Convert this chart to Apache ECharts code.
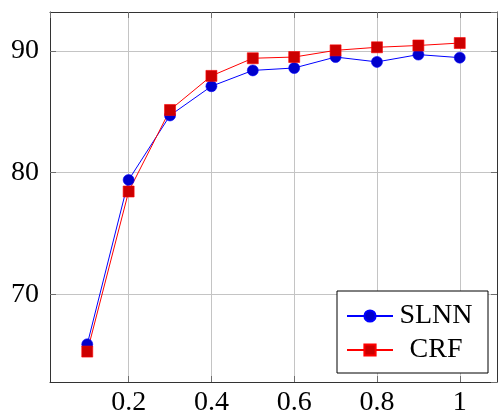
<!DOCTYPE html>
<html>
<head>
<meta charset="utf-8">
<script src="https://cdn.jsdelivr.net/npm/echarts@6/dist/echarts.min.js"></script>
<style>
html, body { margin: 0; padding: 0; background: #fff; }
#main { width: 499px; height: 417px; }
</style>
</head>
<body>
<div id="main"></div>
<script>
// data
var xValues = [0.1, 0.2, 0.3, 0.4, 0.5, 0.6, 0.7, 0.8, 0.9, 1];
var slnnValues = [65.9, 79.4, 84.7, 87.1, 88.4, 88.6, 89.5, 89.1, 89.7, 89.45];
var crfValues = [65.3, 78.45, 85.15, 87.95, 89.4, 89.5, 90.05, 90.3, 90.45, 90.65];
var seriesNames = ['SLNN', 'CRF'];

function pairs(xs, ys) {
    var out = [];
    for (var i = 0; i < xs.length; i++) out.push([xs[i], ys[i]]);
    return out;
}

var serifFont = '"Liberation Serif", "DejaVu Serif", serif';
var gridColor = '#c4c4c4';
var tickColor = '#6e6e6e';

var chart = echarts.init(document.getElementById('main'));
var option = {
    animation: false,
    grid: {
        left: 50,
        right: 2,
        top: 12,
        bottom: 34,
        show: false
    },
    legend: {
        orient: 'vertical',
        left: 337,
        top: 291,
        padding: [11, 14, 9, 9],
        itemGap: 6,
        itemWidth: 46,
        itemHeight: 14,
        backgroundColor: '#fff',
        borderColor: '#000',
        borderWidth: 1,
        borderRadius: 0,
        data: seriesNames,
        formatter: function (name) { return '{t|' + name + '}'; },
        textStyle: {
            rich: {
                t: {
                    width: 76,
                    align: 'center',
                    fontFamily: serifFont,
                    fontSize: 28,
                    lineHeight: 28,
                    color: '#000'
                }
            }
        }
    },
    xAxis: [
        {
            type: 'value',
            min: 0.01,
            max: 1.09,
            splitNumber: 5,
            axisLine: { show: true, onZero: false, lineStyle: { color: '#333', width: 1 } },
            axisTick: { show: true, inside: true, length: 6, lineStyle: { color: tickColor } },
            splitLine: { show: true, lineStyle: { color: gridColor, width: 1 } },
            axisLabel: {
                showMinLabel: false,
                showMaxLabel: false,
                margin: 7,
                color: '#000',
                fontFamily: serifFont,
                fontSize: 28
            }
        },
        {
            type: 'value',
            position: 'top',
            min: 0.01,
            max: 1.09,
            splitNumber: 5,
            axisLine: { show: true, onZero: false, lineStyle: { color: '#333', width: 1 } },
            axisTick: { show: true, inside: true, length: 6, lineStyle: { color: tickColor } },
            splitLine: { show: false },
            axisLabel: { show: false }
        }
    ],
    yAxis: [
        {
            type: 'value',
            min: 62.8,
            max: 93.2,
            splitNumber: 3,
            axisLine: { show: true, onZero: false, lineStyle: { color: '#333', width: 1 } },
            axisTick: { show: true, inside: true, length: 6, lineStyle: { color: tickColor } },
            splitLine: { show: true, lineStyle: { color: gridColor, width: 1 } },
            axisLabel: {
                showMinLabel: false,
                showMaxLabel: false,
                margin: 11,
                color: '#000',
                fontFamily: serifFont,
                fontSize: 28
            }
        },
        {
            type: 'value',
            position: 'right',
            min: 62.8,
            max: 93.2,
            splitNumber: 3,
            axisLine: { show: true, onZero: false, lineStyle: { color: '#333', width: 1 } },
            axisTick: { show: true, inside: true, length: 6, lineStyle: { color: tickColor } },
            splitLine: { show: false },
            axisLabel: { show: false }
        }
    ],
    series: [
        {
            name: seriesNames[0],
            type: 'line',
            data: pairs(xValues, slnnValues),
            symbol: 'circle',
            symbolSize: 11,
            lineStyle: { color: '#0000ff', width: 1 },
            itemStyle: { color: '#0000cc', borderColor: '#0000ff', borderWidth: 0.6 }
        },
        {
            name: seriesNames[1],
            type: 'line',
            data: pairs(xValues, crfValues),
            symbol: 'rect',
            symbolSize: 11,
            lineStyle: { color: '#ff0000', width: 1 },
            itemStyle: { color: '#cc0000', borderColor: '#ff0000', borderWidth: 0.6 }
        }
    ]
};
chart.setOption(option);
</script>
</body>
</html>
